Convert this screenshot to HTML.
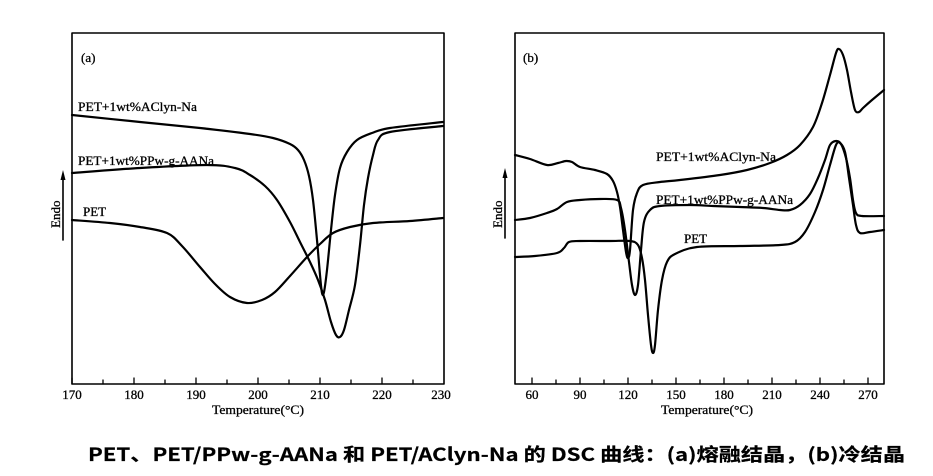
<!DOCTYPE html>
<html><head><meta charset="utf-8"><style>
html,body{margin:0;padding:0;background:#fff;width:933px;height:476px;overflow:hidden}
svg{display:block}
text{font-family:"Liberation Serif",serif;fill:#000;stroke:#000;stroke-width:0.3}
</style></head><body>
<svg width="933" height="476" viewBox="0 0 933 476" xmlns="http://www.w3.org/2000/svg">
<g fill="none" stroke="#000" stroke-linejoin="round" stroke-linecap="round">
<rect x="72" y="33" width="372" height="351" stroke-width="1.6"/>
<g stroke-width="1.3">
<path d="M72,384v-6M103,384v-4M134,384v-6M165,384v-4M196,384v-6M227,384v-4M258,384v-6M289,384v-4M320,384v-6M351,384v-4M382,384v-6M413,384v-4"/>
</g>
<g stroke-width="2.2">
<polyline class="c" points="72,115 140,122 200,128 250,134 273,138 290,144 298,150 304,160 309,176 313,200 317,240 320,275 322,293 324,292 327,270 331,230 335,195 340,168 347,152 357,140 372,133 390,128 443,122"/>
<polyline class="c" points="72,173 140,168 207,165 235,168 250,175 265,186 277,200 290,222 300,242 310,262 318,280 325,300 331,322 336,335 340,337 344,330 349,310 355,285 360,245 364,205 368,178 373,155 378,140 390,132 443,126"/>
<polyline class="c" points="72,220 110,223 140,227 167,233 182,246 200,267 215,284 230,297 247,303 262,300 275,292 290,276 307,257 320,244 333,233 350,227 373,223 410,221 443,218"/>
</g>
<path d="M63,240V180" stroke-width="1.6"/>
<polygon points="63,170 60.5,180 65.5,180" fill="#000" stroke="none"/>
<rect x="515" y="33" width="369" height="351" stroke-width="1.6"/>
<g stroke-width="1.3">
<path d="M532,384v-6M556,384v-4M580,384v-6M604,384v-4M628,384v-6M652,384v-4M676,384v-6M700,384v-4M724,384v-6M748,384v-4M772,384v-6M796,384v-4M820,384v-6M844,384v-4M868,384v-6"/>
</g>
<g stroke-width="2.2">
<polyline class="c" points="515,155 530,159 547,165 558,163 566,161 572,162 580,167 595,170 607,174 613,181 617,192 620,207 623,230 626,252 628,258 630,250 633,210 637,193 643,185 660,182 680,180 720,175 747,170 770,163 787,155 800,145 813,127 822,103 830,75 836,53 839,49 843,55 847,70 851,92 855,110 859,112 863,108 872,100 884,90"/>
<polyline class="c" points="515,220 530,218 547,213 557,209 567,202 580,200 600,199 617,200 621,208 625,230 629,262 632,285 635,295 638,285 641,250 644,222 650,210 660,206 690,205 713,206 740,207 763,208 780,210 790,210 800,205 810,194 818,178 825,160 830,145 836,141 841,144 846,158 850,178 853,200 856,213 862,216 884,216"/>
<polyline class="c" points="515,257 535,256 557,253 564,248 569,242 580,241 610,241 630,241 638,245 642,258 645,280 648,315 651,345 653,353 655,345 658,310 662,280 667,262 675,254 697,247 740,246 780,245 795,242 805,232 815,212 823,190 830,165 836,145 840,143 845,152 849,178 853,205 856,225 860,233 870,232 884,230"/>
</g>
<path d="M505,238V178" stroke-width="1.6"/>
<polygon points="505,168 502.5,178 507.5,178" fill="#000" stroke="none"/>
</g>
<g font-size="13">
<text x="81" y="62">(a)</text>
<text x="78" y="111" textLength="119" lengthAdjust="spacingAndGlyphs">PET+1wt%AClyn-Na</text>
<text x="78" y="165" textLength="136" lengthAdjust="spacingAndGlyphs">PET+1wt%PPw-g-AANa</text>
<text x="83" y="216">PET</text>
<text transform="translate(60,228) rotate(-90)">Endo</text>
<text x="72" y="399" text-anchor="middle">170</text>
<text x="134" y="399" text-anchor="middle">180</text>
<text x="196" y="399" text-anchor="middle">190</text>
<text x="258" y="399" text-anchor="middle">200</text>
<text x="320" y="399" text-anchor="middle">210</text>
<text x="382" y="399" text-anchor="middle">220</text>
<text x="441" y="399" text-anchor="middle">230</text>
<text x="258" y="414" text-anchor="middle" textLength="92" lengthAdjust="spacingAndGlyphs">Temperature(°C)</text>
<text x="523" y="62">(b)</text>
<text x="656" y="161" textLength="120" lengthAdjust="spacingAndGlyphs">PET+1wt%AClyn-Na</text>
<text x="656" y="204" textLength="137" lengthAdjust="spacingAndGlyphs">PET+1wt%PPw-g-AANa</text>
<text x="684" y="243">PET</text>
<text transform="translate(502,228) rotate(-90)">Endo</text>
<text x="532" y="399" text-anchor="middle">60</text>
<text x="580" y="399" text-anchor="middle">90</text>
<text x="628" y="399" text-anchor="middle">120</text>
<text x="676" y="399" text-anchor="middle">150</text>
<text x="724" y="399" text-anchor="middle">180</text>
<text x="772" y="399" text-anchor="middle">210</text>
<text x="820" y="399" text-anchor="middle">240</text>
<text x="868" y="399" text-anchor="middle">270</text>
<text x="707" y="414" text-anchor="middle" textLength="92" lengthAdjust="spacingAndGlyphs">Temperature(°C)</text>
</g>
<text x="88" y="461" font-size="18" font-weight="bold" textLength="817" lengthAdjust="spacingAndGlyphs" style="font-family:'Noto Sans CJK SC',sans-serif;stroke-width:0.2">PET、PET/PPw-g-AANa 和 PET/AClyn-Na 的 DSC 曲线：(a)熔融结晶，(b)冷结晶</text>
</svg>
<script>
document.querySelectorAll('polyline.c').forEach(function(pl){
  var p=pl.getAttribute('points').trim().split(/\s+/).map(function(s){return s.split(',').map(Number);});
  var d='M'+p[0][0]+','+p[0][1];
  for(var i=0;i<p.length-1;i++){
    var p0=p[i-1]||p[i],p1=p[i],p2=p[i+1],p3=p[i+2]||p2;
    var c1=[p1[0]+(p2[0]-p0[0])/6,p1[1]+(p2[1]-p0[1])/6];
    var c2=[p2[0]-(p3[0]-p1[0])/6,p2[1]-(p3[1]-p1[1])/6];
    d+=' C'+c1.join(',')+' '+c2.join(',')+' '+p2.join(',');
  }
  var path=document.createElementNS('http://www.w3.org/2000/svg','path');
  path.setAttribute('d',d);
  pl.parentNode.replaceChild(path,pl);
});
</script>
</body></html>
